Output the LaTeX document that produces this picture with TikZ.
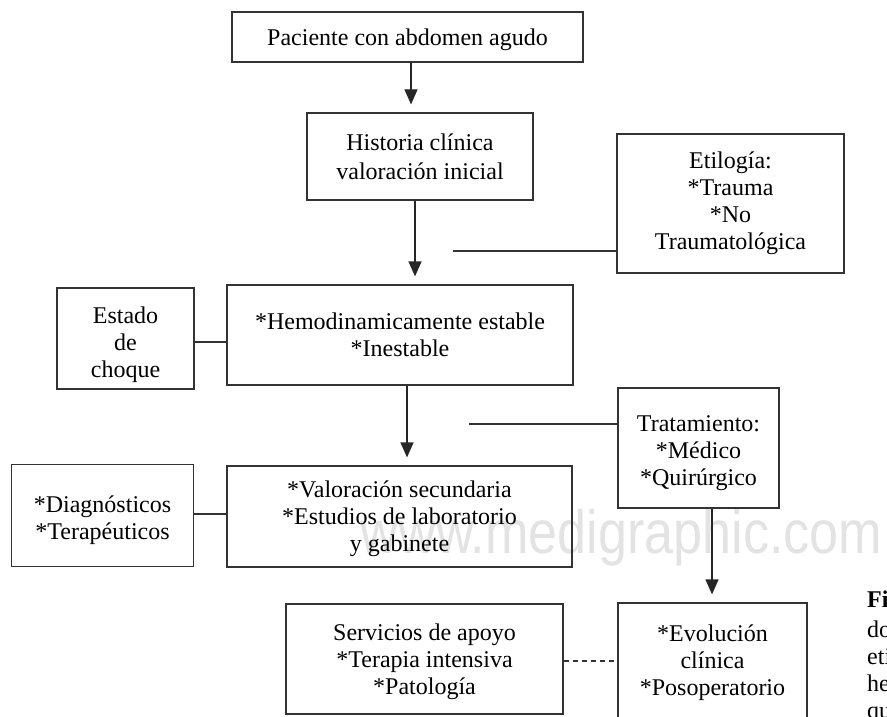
\documentclass[tikz,border=0pt]{standalone}
\usepackage{fontspec}
\setmainfont{Liberation Serif}
\newfontfamily\wmfont{Liberation Sans}
\usetikzlibrary{arrows.meta}
\newcommand\tpad[1]{\rule{0pt}{#1}}
\tikzset{
  box/.style={draw=black!80, line width=1.2pt, inner sep=0pt, align=center,
    font=\fontsize{24}{27}\selectfont},
  arr/.style={draw=black!85, line width=1.2pt, -{Triangle[width=13pt,length=15pt]}, shorten >=8pt},
  link/.style={draw=black!80, line width=1.2pt},
  dlink/.style={draw=black!80, line width=1.2pt, dash pattern=on 5.5pt off 3.5pt},
  captxt/.style={anchor=base west, inner sep=0pt, font=\fontsize{24}{27}\selectfont},
}
\begin{document}
\begin{tikzpicture}[x=1pt, y=-1pt]
\useasboundingbox (0,0) rectangle (887,717);
\clip (0,0) rectangle (887,717);
% watermark
\node[anchor=base west, inner sep=0pt, text=black!11, font=\wmfont\fontsize{61}{61}\selectfont] (wm) at (360.5,553) {\scalebox{0.855}[1]{www.medigraphic.com}};
% boxes
\node[box, minimum width=351pt, minimum height=50pt] (b1) at (407.5,37) {\tpad{22pt}Paciente con abdomen agudo};
\node[box, minimum width=226pt, minimum height=87pt] (b2) at (420,156.5) {Historia clínica\\[2pt] valoración inicial};
\node[box, minimum width=227pt, minimum height=139pt] (etil) at (730.5,203.5) {Etilogía:\\ *Trauma\\ *No\\ Traumatológica};
\node[box, minimum width=346pt, minimum height=100pt] (hemo) at (400,335) {*Hemodinamicamente estable\\ *Inestable};
\node[box, minimum width=137pt, minimum height=101pt] (estado) at (125.5,338.5) {\tpad{30pt}Estado\\ de\\ choque};
\node[box, minimum width=161pt, minimum height=120pt] (trat) at (698.5,448) {\tpad{26pt}Tratamiento:\\ *Médico\\ *Quirúrgico};
\node[box, minimum width=345pt, minimum height=101pt] (val) at (399.5,516.5) {\tpad{22pt}*Valoración secundaria\\ *Estudios de laboratorio\\ y gabinete};
\node[box, minimum width=182pt, minimum height=102pt] (diag) at (102.5,515.5) {\tpad{27pt}*Diagnósticos\\ *Terapéuticos};
\node[box, minimum width=189pt, minimum height=119pt] (evo) at (712.5,662.5) {*Evolución\\ clínica\\ *Posoperatorio};
\node[box, minimum width=277pt, minimum height=110pt] (serv) at (424.5,659) {\tpad{22pt}Servicios de apoyo\\ *Terapia intensiva\\ *Patología};
% arrows
\coordinate (x1) at (411,0);
\coordinate (x2) at (415,0);
\coordinate (x3) at (407,0);
\coordinate (x4) at (712,0);
\draw[arr] (x1 |- b1.south) -- (x1 |- b2.north);
\draw[arr] (x2 |- b2.south) -- (x2 |- hemo.north);
\draw[arr] (x3 |- hemo.south) -- (x3 |- val.north);
\draw[arr] (x4 |- trat.south) -- (x4 |- evo.north);
% plain links
\coordinate (e1) at (453,251);
\draw[link] (e1) -- (e1 -| etil.west);
\coordinate (t1) at (469,424);
\draw[link] (t1) -- (t1 -| trat.west);
\coordinate (s1) at (0,342);
\draw[link] (s1 -| estado.east) -- (s1 -| hemo.west);
\coordinate (d1) at (0,514);
\draw[link] (d1 -| diag.east) -- (d1 -| val.west);
\coordinate (v1) at (0,661);
\draw[dlink] (v1 -| serv.east) -- (v1 -| evo.west);
% cut-off caption
\node[captxt, font=\fontsize{24}{27}\selectfont\bfseries] (c1) at (867,607) {Fi};
\node[captxt] (c2) at (867,637) {do};
\node[captxt] (c3) at (867,664) {eti};
\node[captxt] (c4) at (867,691) {he};
\node[captxt] (c5) at (867,718) {qu};
\end{tikzpicture}
\end{document}
